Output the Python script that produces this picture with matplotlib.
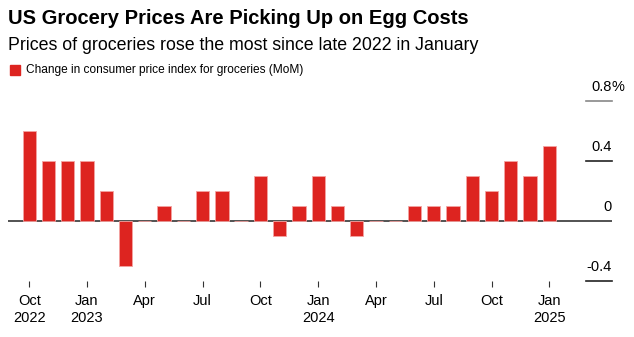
import numpy as np
import matplotlib
matplotlib.use("Agg")
import matplotlib.pyplot as plt
from matplotlib.patches import Rectangle
import matplotlib.transforms as mtransforms

plt.rcParams["font.family"] = ["Liberation Sans", "DejaVu Sans"]

months = ["Oct 2022", "Nov 2022", "Dec 2022", "Jan 2023", "Feb 2023", "Mar 2023",
          "Apr 2023", "May 2023", "Jun 2023", "Jul 2023", "Aug 2023", "Sep 2023",
          "Oct 2023", "Nov 2023", "Dec 2023", "Jan 2024", "Feb 2024", "Mar 2024",
          "Apr 2024", "May 2024", "Jun 2024", "Jul 2024", "Aug 2024", "Sep 2024",
          "Oct 2024", "Nov 2024", "Dec 2024", "Jan 2025"]
mom = [0.6, 0.4, 0.4, 0.4, 0.2, -0.3, 0.0, 0.1, 0.0, 0.2, 0.2, 0.0,
       0.3, -0.1, 0.1, 0.3, 0.1, -0.1, 0.0, 0.0, 0.1, 0.1, 0.1, 0.3,
       0.2, 0.4, 0.3, 0.5]
tick_labels = ["Oct\n2022", "Jan\n2023", "Apr", "Jul", "Oct", "Jan\n2024",
               "Apr", "Jul", "Oct", "Jan\n2025"]
y_ticks = [0.8, 0.4, 0.0, -0.4]
y_labels = ["0.8", "0.4", "0", "-0.4"]

RED = "#dd2420"
W, H = 634, 337
fig = plt.figure(figsize=(W / 100, H / 100), dpi=100)
ax = fig.add_axes([8 / W, (H - 281.3) / H, (612 - 8) / W, (281.3 - 100.7) / H])

x = np.arange(len(mom))
ax.bar(x, mom, width=0.69, color=RED, edgecolor="#f3a3a1", linewidth=0.6, zorder=2)
ax.axhline(0, color="#444444", lw=1.3, zorder=1)
ax.set_xlim(-1.1, 30.25)
ax.set_ylim(-0.4, 0.8)

for s in ax.spines.values():
    s.set_visible(False)
ax.set_yticks([])
ax.set_xticks(x[::3])
ax.set_xticklabels(tick_labels, fontsize=10.5, linespacing=1.25)
ax.tick_params(axis="x", length=4, width=0.8, color="#333333", pad=5)

# short gridline stubs with labels on the right
tr = mtransforms.blended_transform_factory(ax.transAxes, ax.transData)
x0 = (586 - 8) / (612 - 8)
for v, lab in zip(y_ticks, y_labels):
    if v != 0:
        ax.plot([x0, 1], [v, v], transform=tr, clip_on=False,
                color="#888888" if v == 0.8 else "#222222", lw=1.2)
    ax.annotate(lab, (1, v), xycoords=tr, xytext=(0, 5), textcoords="offset points",
                ha="right", va="bottom", fontsize=10.5)
ax.annotate("%", (1, 0.8), xycoords=tr, xytext=(0, 5), textcoords="offset points",
            ha="left", va="bottom", fontsize=10.5)

fig.text(8 / W, 1 - 18 / H, "US Grocery Prices Are Picking Up on Egg Costs",
         fontsize=14.5, fontweight="bold", va="center", ha="left")
fig.text(8 / W, 1 - 45 / H, "Prices of groceries rose the most since late 2022 in January",
         fontsize=12.8, va="center", ha="left")
fig.patches.append(Rectangle((10 / W, 1 - 75 / H), 10 / W, 10 / H,
                             transform=fig.transFigure, color=RED))
fig.text(26 / W, 1 - 70 / H, "Change in consumer price index for groceries (MoM)",
         fontsize=8.6, va="center", ha="left")

fig.savefig("out.png", dpi=100)
